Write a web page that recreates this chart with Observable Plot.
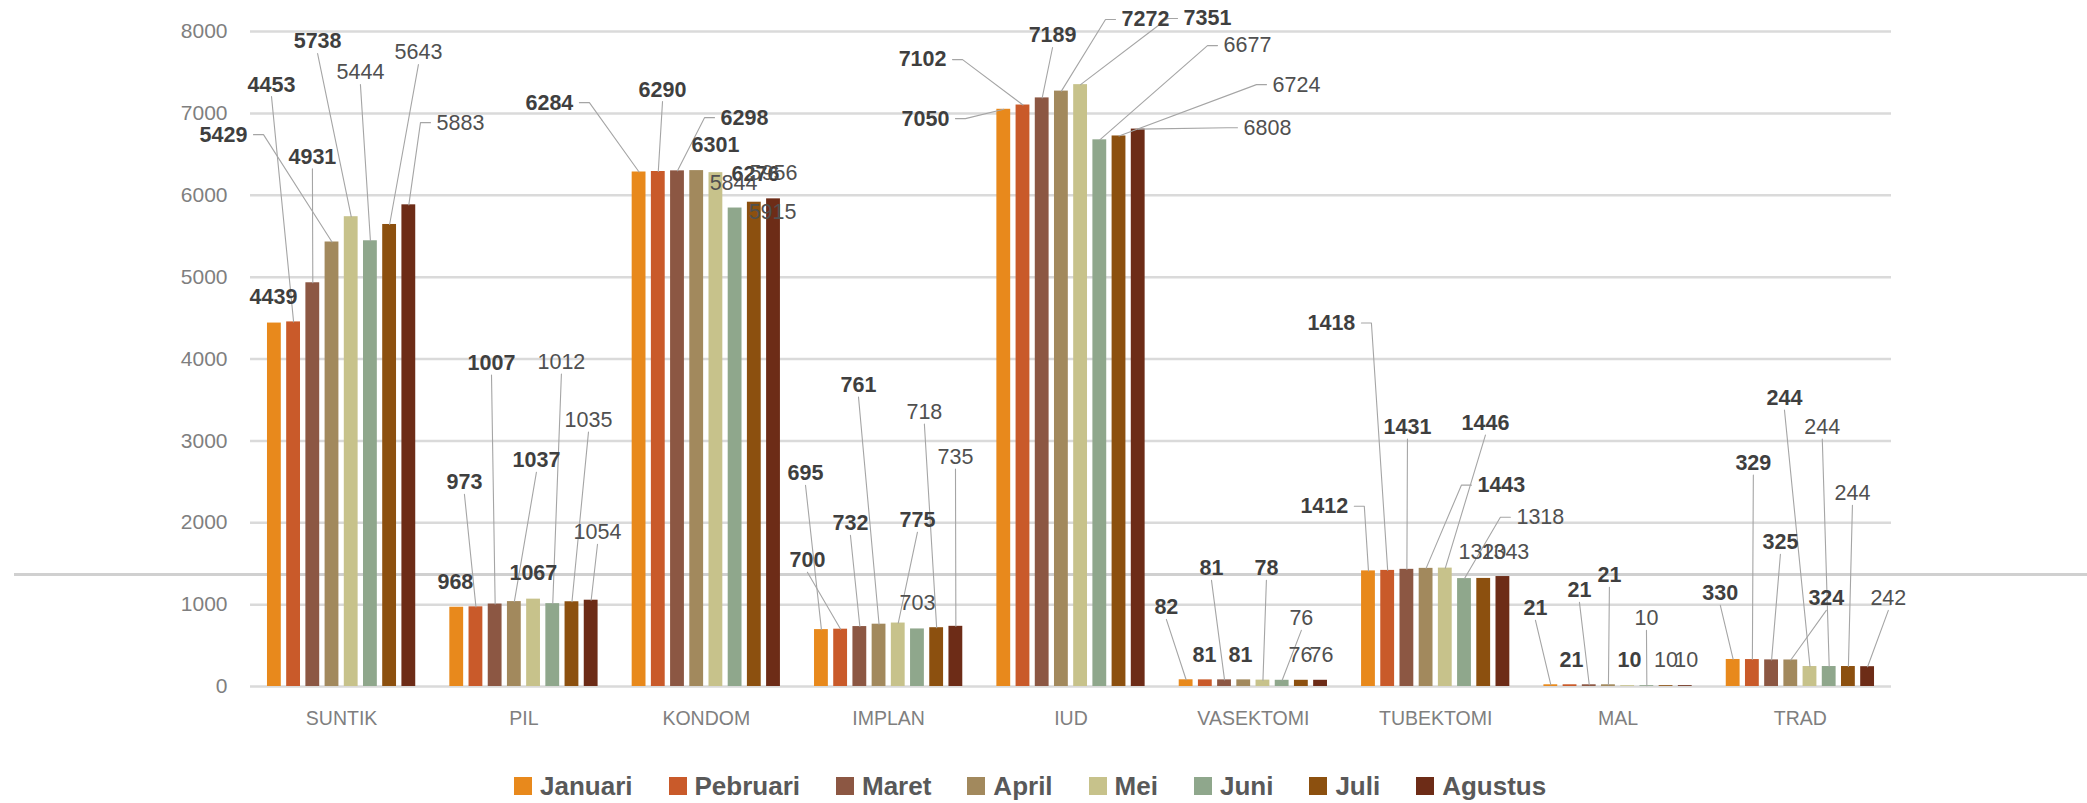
<!DOCTYPE html>
<html>
<head>
<meta charset="utf-8">
<script src="https://cdn.jsdelivr.net/npm/d3@7"></script>
<script src="https://cdn.jsdelivr.net/npm/@observablehq/plot@0.6"></script>
<style>
  html, body { margin: 0; padding: 0; background: #ffffff; }
  #wrap { position: relative; width: 2087px; height: 803px; overflow: hidden; }
  #artifact { position: absolute; left: 14px; top: 573px; width: 2073px; height: 3px; background: #d0d0d0; }
  #chart { position: relative; }
  #legend { position: absolute; left: 514px; top: 769px; height: 34px; display: flex; align-items: center;
            font-family: "Liberation Sans", Arial, sans-serif; font-weight: bold;
            font-size: 26px; line-height: 30px; color: #595959; }
  #legend .item { display: flex; align-items: center; margin-right: 36px; }
  #legend .sw { width: 18px; height: 18px; margin-right: 8px; display: inline-block; }
</style>
</head>
<body>
<div id="wrap">
  <div id="artifact"></div>
  <div id="chart"></div>
  <div id="legend"></div>
</div>
<script>
// ---------- data ----------
const categories = ["SUNTIK", "PIL", "KONDOM", "IMPLAN", "IUD", "VASEKTOMI", "TUBEKTOMI", "MAL", "TRAD"];
const months = ["Januari", "Pebruari", "Maret", "April", "Mei", "Juni", "Juli", "Agustus"];
const suntik    = [4439, 4453, 4931, 5429, 5738, 5444, 5643, 5883];
const pil       = [968, 973, 1007, 1037, 1067, 1012, 1035, 1054];
const kondom    = [6284, 6290, 6298, 6301, 6276, 5844, 5915, 5956];
const implan    = [695, 700, 732, 761, 775, 703, 718, 735];
const iud       = [7050, 7102, 7189, 7272, 7351, 6677, 6724, 6808];
const vasektomi = [82, 81, 81, 81, 78, 76, 76, 76];
const tubektomi = [1412, 1418, 1431, 1443, 1446, 1318, 1320, 1343];
const mal       = [21, 21, 21, 21, 10, 10, 10, 10];
const trad      = [330, 329, 325, 324, 244, 244, 244, 242];
const yTicks = [0, 1000, 2000, 3000, 4000, 5000, 6000, 7000, 8000];
const monthColors = ["#E8891C", "#C95A2A", "#8C5743", "#A2895D", "#C7C28B", "#8FA78C", "#8C500F", "#6D2C17"];

// ---------- label placement (offset in bar steps, label height in data units, leader side) ----------
const labelLayout = {
  SUNTIK:    [[-0.05,4758,""],[-1.15,7351,"b"],[-0.02,6471,"b"],[-5.65,6740,"r"],[-1.75,7877,"b"],[-0.52,7498,"b"],[1.50,7743,"b"],[2.69,6887,"l"]],
  PIL:       [[-0.07,1272,""],[-0.60,2495,"b"],[-0.19,3951,"b"],[1.15,2764,"b"],[-0.01,1382,""],[0.45,3963,"b"],[0.86,3254,"b"],[0.33,1884,"b"]],
  KONDOM:    [[-4.67,7131,"r"],[0.22,7290,"b"],[3.49,6948,"l"],[0.98,6618,""],[2.06,6263,""],[-0.08,6153,""],[0.95,5798,""],[0.0,6275,""]],
  IMPLAN:    [[-0.83,2605,"b"],[-1.73,1541,"b"],[-0.49,1994,"b"],[-1.07,3682,"b"],[1.00,2031,"b"],[0,1015,""],[-0.64,3352,"b"],[-0.02,2801,"b"]],
  IUD:       [[-4.08,6936,"r"],[-5.23,7657,"r"],[0.54,7951,"b"],[4.38,8147,"l"],[6.61,8159,"l"],[7.69,7828,"l"],[9.24,7351,"l"],[6.73,6825,"l"]],
  VASEKTOMI: [[-1.03,966,"b"],[-0.05,379,""],[-0.68,1443,"b"],[-0.17,379,""],[0.18,1443,"b"],[1.0,832,"b"],[-0.05,379,""],[0.05,379,""]],
  TUBEKTOMI: [[-2.30,2202,"r"],[-2.93,4440,"r"],[0.03,3168,"b"],[3.92,2459,"l"],[2.09,3217,"b"],[3.95,2067,"l"],[-0.07,1639,""],[0.13,1639,""]],
  MAL:       [[-0.80,954,"b"],[0.07,318,""],[-0.51,1174,"b"],[0.05,1358,"b"],[0.09,318,""],[-0.02,832,"b"],[0,318,""],[0.05,318,""]],
  TRAD:      [[-0.67,1138,"b"],[0.05,2728,"b"],[0.46,1761,"b"],[1.85,1076,"b"],[-1.33,3523,"b"],[-0.36,3168,"b"],[0.21,2361,"b"],[1.08,1076,"b"]]
};

// ---------- layout ----------
const W = 2087, H = 750;
const mL = 250, mR = 196, mT = 31, mB = 64;
const catStep = 9.495;           // bar steps between category groups
const barHalf = 0.36;            // half bar width in bar steps
const xDomain = [-0.744, 8 * catStep + 8.744];
const yMax = 8000;
const pxPerX = (W - mL - mR) / (xDomain[1] - xDomain[0]);
const pxPerY = (H - mT - mB) / yMax;
const labelFont = 21.5, charW = 12;
const labelFamily = "'Liberation Sans', Arial, sans-serif";

const series = [suntik, pil, kondom, implan, iud, vasektomi, tubektomi, mal, trad];
const rows = [];
categories.forEach((c, i) => months.forEach((m, j) => {
  const xc = i * catStep + j + 0.5;
  const [dx, lv, side] = labelLayout[c][j];
  rows.push({cat: c, month: m, i, j, value: series[i][j], xc, lx: xc + dx, lv, side, bold: j < 5});
}));

// leader lines
const leaders = [];
rows.forEach((r, k) => {
  if (!r.side) return;
  const w = String(r.value).length * charW;
  let pts;
  if (r.side === "b") {
    pts = [[r.lx, r.lv - 12 / pxPerY]];
  } else if (r.side === "r") {
    pts = [[r.lx + (w / 2 + 6) / pxPerX, r.lv], [r.lx + (w / 2 + 16) / pxPerX, r.lv]];
  } else {
    pts = [[r.lx - (w / 2 + 6) / pxPerX, r.lv], [r.lx - (w / 2 + 16) / pxPerX, r.lv]];
  }
  pts.push([r.xc, r.value]);
  pts.forEach(([x, y]) => leaders.push({id: k, x, y}));
});

const catLabels = categories.map((c, i) => ({c, x: i * catStep + 4}));

const chart = Plot.plot({
  width: W, height: H,
  marginLeft: mL, marginRight: mR, marginTop: mT, marginBottom: mB,
  style: {background: "transparent", fontFamily: "'Liberation Sans', Arial, sans-serif", fontSize: "21px", color: "#7f7f7f"},
  x: {domain: xDomain, axis: null},
  y: {domain: [0, yMax], ticks: yTicks, tickSize: 0, tickPadding: 23, label: null, tickFormat: d => String(d)},
  color: {domain: months, range: monthColors},
  marks: [
    Plot.ruleY(yTicks, {stroke: "#dadada", strokeWidth: 2.5}),
    Plot.rectY(rows, {x1: d => d.xc - barHalf, x2: d => d.xc + barHalf, y1: 0, y2: "value", fill: "month"}),
    Plot.line(leaders, {x: "x", y: "y", z: "id", stroke: "#a5a5a5", strokeWidth: 1.1}),
    Plot.text(rows.filter(d => d.bold), {x: "lx", y: "lv", text: d => String(d.value), fill: "#3f3f3f",
      fontWeight: "bold", fontSize: labelFont, fontFamily: labelFamily}),
    Plot.text(rows.filter(d => !d.bold), {x: "lx", y: "lv", text: d => String(d.value), fill: "#505050",
      fontSize: labelFont, fontFamily: labelFamily}),
    Plot.text(catLabels, {x: "x", y: () => 0, dy: 32, text: "c", fill: "#7f7f7f", fontSize: 19.5,
      fontFamily: labelFamily})
  ]
});
document.getElementById("chart").appendChild(chart);

// legend
const legend = document.getElementById("legend");
months.forEach((m, j) => {
  const item = document.createElement("div");
  item.className = "item";
  const sw = document.createElement("span");
  sw.className = "sw";
  sw.style.background = monthColors[j];
  const t = document.createElement("span");
  t.textContent = m;
  item.appendChild(sw);
  item.appendChild(t);
  legend.appendChild(item);
});
</script>
</body>
</html>
